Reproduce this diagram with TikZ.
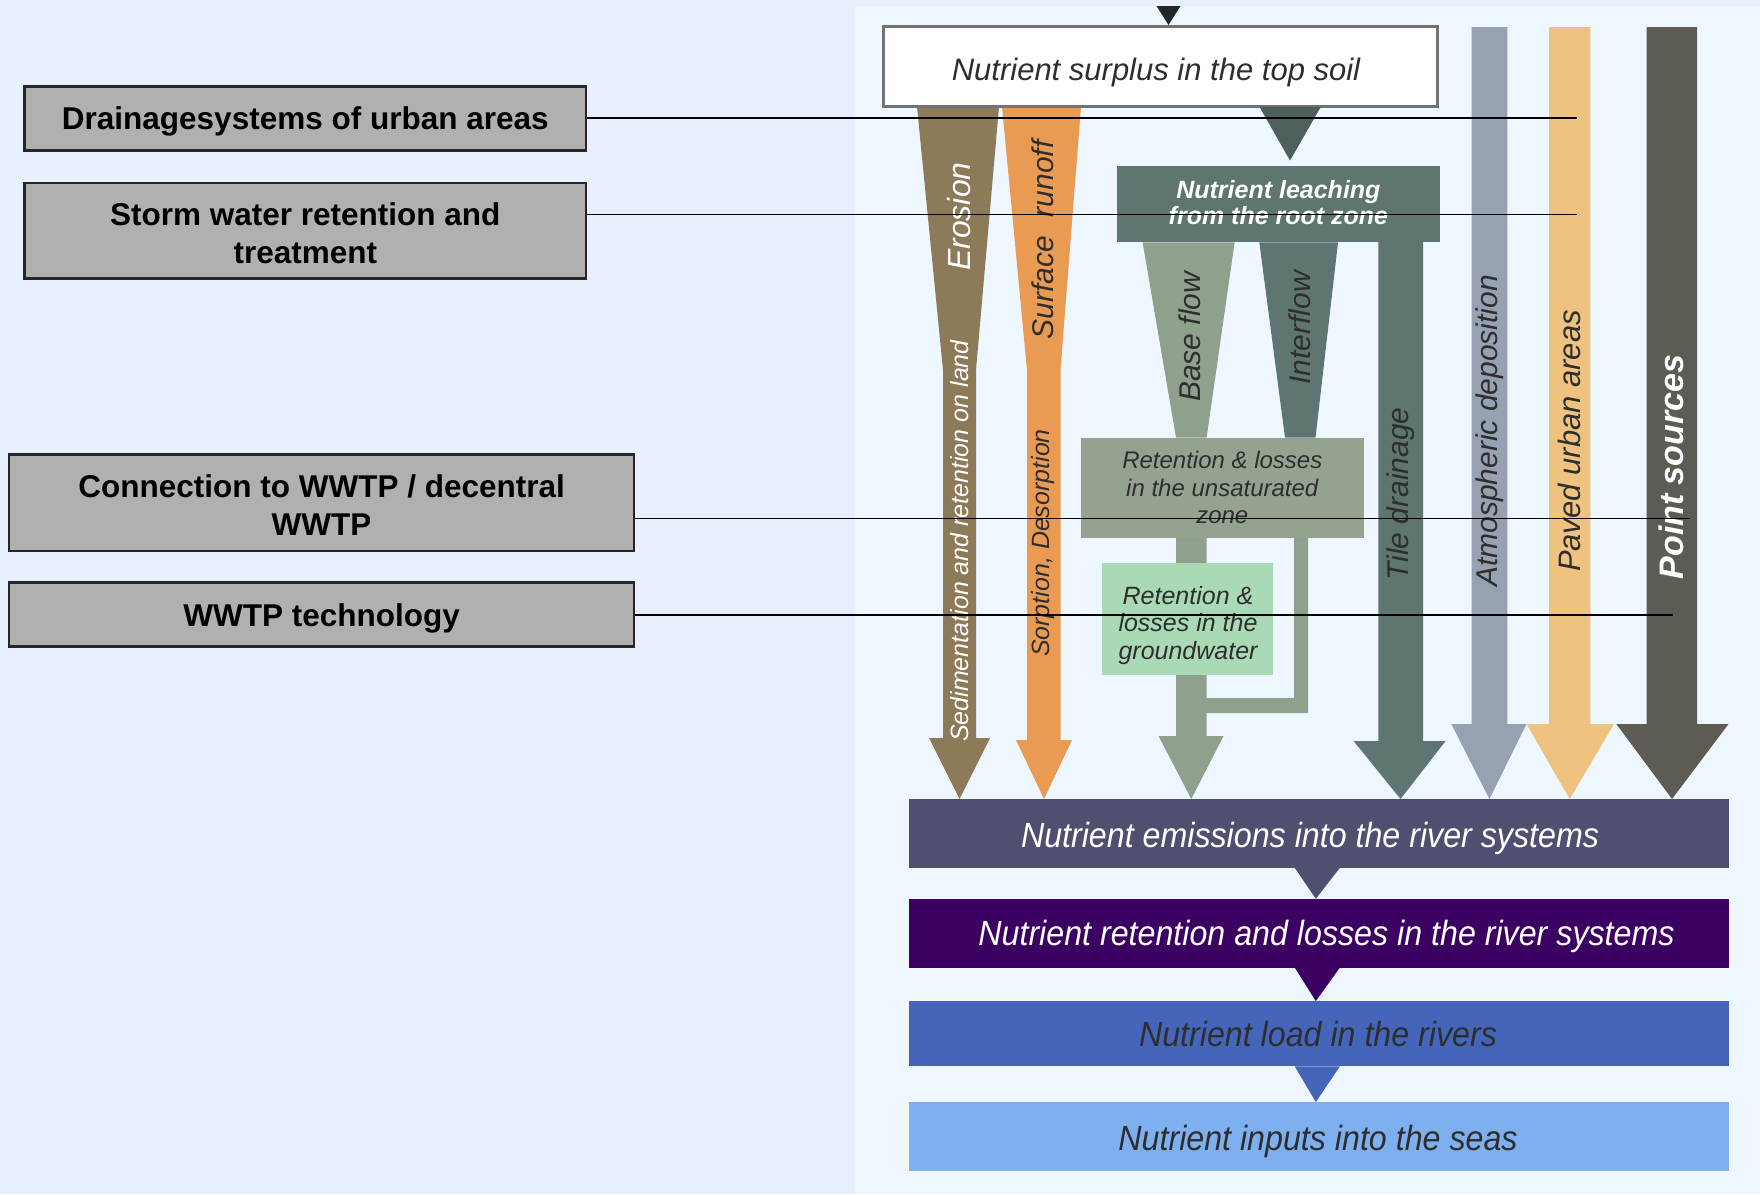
\documentclass[tikz,border=0pt]{standalone}
\usepackage{fontspec}
\setmainfont{Liberation Sans}
\definecolor{leftbg}{HTML}{E8F0FD}
\definecolor{panelbg}{HTML}{EEF6FF}
\definecolor{boxgray}{HTML}{B0B0B0}
\definecolor{eroc}{HTML}{8C7A58}
\definecolor{runc}{HTML}{E99B53}
\definecolor{leachc}{HTML}{5E7571}
\definecolor{tric}{HTML}{4E605C}
\definecolor{basec}{HTML}{8FA08C}
\definecolor{unsatc}{HTML}{94A38F}
\definecolor{gwc}{HTML}{A9D9B5}
\definecolor{atmc}{HTML}{96A2B2}
\definecolor{pavc}{HTML}{F0C27F}
\definecolor{ptc}{HTML}{5E5A54}
\definecolor{emc}{HTML}{4F4F6F}
\definecolor{retc}{HTML}{3C0062}
\definecolor{loadc}{HTML}{4465B9}
\definecolor{seac}{HTML}{7EB0EF}
\definecolor{darktxt}{HTML}{2E2E2E}
\begin{document}
\begin{tikzpicture}[x=1pt,y=-1pt,
  lbox/.style={draw=black!85, line width=2.5pt, fill=boxgray, inner sep=0pt},
  ltxt/.style={align=center, inner sep=0pt, font=\bfseries\fontsize{31.5}{38}\selectfont},
  link/.style={line width=1.6pt, black},
  bar/.style={rectangle, inner sep=0pt, minimum width=819.5pt},
  bartxt/.style={inner sep=0pt, font=\itshape\fontsize{35}{40}\selectfont},
  inbox/.style={rectangle, inner sep=0pt, align=center},
  vtxt/.style={rotate=90, inner sep=0pt, font=\itshape\fontsize{30}{34}\selectfont, text=darktxt}
]
\useasboundingbox (0,0) rectangle (1760,1194);
\fill[leftbg] (0,0) rectangle (1760,1194);
\fill[panelbg] (855,6) rectangle (1760,1194);

% ---- left boxes ----
\node[lbox, minimum width=561.2pt, minimum height=64pt] (b1) at (305.3,118.4) {};
\node[lbox, minimum width=561.2pt, minimum height=95.4pt] (b2) at (305.3,230.7) {};
\node[lbox, minimum width=625.2pt, minimum height=96.5pt] (b3) at (321.6,502.9) {};
\node[lbox, minimum width=625.2pt, minimum height=64pt] (b4) at (321.6,614.5) {};
\node[ltxt] (b1t) at (305.3,121.6) {Drainagesystems of urban areas};
\node[ltxt] (b2t) at (305.3,233) {Storm water retention and\\treatment};
\node[ltxt] (b3t) at (321.6,505.2) {Connection to WWTP / decentral\\WWTP};
\node[ltxt] (b4t) at (321.6,618.8) {WWTP technology};

% ---- flows from top soil ----
\fill[eroc] (917,106.6) -- (999,106.6) -- (976,370) -- (976,738) -- (990,738) -- (959.5,799) -- (929,738) -- (943,738) -- (943,370) -- cycle;
\fill[runc] (1002,106.6) -- (1081,106.6) -- (1060.5,370) -- (1060.5,740) -- (1072,740) -- (1044,799) -- (1016,740) -- (1027,740) -- (1027,370) -- cycle;

% leaching branches
\fill[basec] (1142.6,242.4) -- (1234.6,242.4) -- (1206.6,437.7) -- (1176,437.7) -- cycle;
\fill[leachc] (1259.3,242.4) -- (1338,242.4) -- (1315.5,437.7) -- (1285,437.7) -- cycle;
\fill[basec] (1176,537) -- (1206.6,537) -- (1206.6,736) -- (1223.5,736) -- (1191.3,799) -- (1158.5,736) -- (1176,736) -- cycle;
\fill[basec] (1294,537) -- (1308,537) -- (1308,713) -- (1206,713) -- (1206,698) -- (1294,698) -- cycle;
\fill[leachc] (1378.3,242) -- (1423.2,242) -- (1423.2,741) -- (1445.6,741) -- (1400.5,799) -- (1353.6,741) -- (1378.3,741) -- cycle;

% direct sources
\fill[atmc] (1471.5,27) -- (1507.4,27) -- (1507.4,724) -- (1526.5,724) -- (1489.4,799) -- (1451.3,724) -- (1471.5,724) -- cycle;
\fill[pavc] (1549,27) -- (1590.4,27) -- (1590.4,724) -- (1614,724) -- (1569.7,799) -- (1526.5,724) -- (1549,724) -- cycle;
\fill[ptc] (1646.6,27) -- (1697,27) -- (1697,724) -- (1728.5,724) -- (1672,799) -- (1616.3,724) -- (1646.6,724) -- cycle;

% ---- top soil ----
\fill[black!85] (1156.5,6) -- (1180.5,6) -- (1168.5,25) -- cycle;
\node[inbox, draw=black!55, line width=3pt, fill=white, minimum width=554.5pt, minimum height=79.7pt] (ts) at (1160.5,66.75) {};
\node[inbox, font=\itshape\fontsize{31}{36}\selectfont, text=darktxt] (tstxt) at (1156,72) {Nutrient surplus in the top soil};
\fill[tric] (1259.3,106.6) -- (1321,106.6) -- (1290,160.5) -- cycle;

% ---- intermediate boxes ----
\node[inbox, fill=leachc, minimum width=323.2pt, minimum height=76.3pt] (leach) at (1278.4,204.2) {};
\node[inbox, text=white, font=\bfseries\itshape\fontsize{25}{25.5}\selectfont] (leacht) at (1278.4,202.5) {Nutrient leaching\\from the root zone};
\node[inbox, fill=unsatc, minimum width=282.7pt, minimum height=99.9pt, text=darktxt,
  font=\itshape\fontsize{24}{27.5}\selectfont] (unsat) at (1222.3,487.6) {Retention \& losses\\in the unsaturated\\zone};
\node[inbox, fill=gwc, minimum width=170.6pt, minimum height=111.2pt] (gw) at (1187.5,619) {};
\node[inbox, text=darktxt, font=\itshape\fontsize{25}{27.5}\selectfont] (gwt) at (1188,625.5) {Retention \&\\losses in the\\groundwater};

% ---- flow labels ----
\node[vtxt, text=white, font=\itshape\fontsize{32}{36}\selectfont] (lero) at (959,216.6) {Erosion};
\node[vtxt, text=white, font=\itshape\fontsize{25}{30}\selectfont] (lsed) at (959.5,541) {Sedimentation and retention on land};
\node[vtxt] (lrun) at (1043,240) {Surface\hspace{0.35em} runoff};
\node[vtxt, font=\itshape\fontsize{25}{30}\selectfont] (lsor) at (1043.5,543) {Sorption, Desorption};
\node[vtxt] (lbase) at (1190,336.7) {Base flow};
\node[vtxt] (linter) at (1300,327.7) {Interflow};
\node[vtxt] (ltile) at (1401,494) {Tile drainage};
\node[vtxt] (latm) at (1489.4,431) {Atmospheric deposition};
\node[vtxt, font=\itshape\fontsize{31}{35}\selectfont] (lpav) at (1569.5,441) {Paved urban areas};
\node[vtxt, text=white, font=\bfseries\itshape\fontsize{34}{38}\selectfont] (lpt) at (1671.5,467) {Point sources};

% ---- river bars ----
\node[bar, fill=emc, minimum height=68.6pt] (em) at (1318.8,833.4) {};
\node[bar, fill=retc, minimum height=68.5pt] (ret) at (1318.8,933.25) {};
\node[bar, fill=loadc, minimum height=65pt] (load) at (1318.8,1033.75) {};
\node[bar, fill=seac, minimum height=68.5pt] (sea) at (1318.8,1136.45) {};
\node[bartxt, text=white] (emt) at (1310,838) {\scalebox{0.92}[1]{Nutrient emissions into the river systems}};
\node[bartxt, text=white] (rett) at (1326.5,936.7) {\scalebox{0.92}[1]{Nutrient retention and losses in the river systems}};
\node[bartxt, text=darktxt] (loadt) at (1318,1033.5) {\scalebox{0.92}[1]{Nutrient load in the rivers}};
\node[bartxt, text=darktxt] (seat) at (1318,1141) {\scalebox{0.92}[1]{Nutrient inputs into the seas}};
\fill[emc] ([xshift=-24pt]em.south) -- ([xshift=21pt]em.south) -- ([xshift=-3pt]ret.north) -- cycle;
\fill[retc] ([xshift=-24pt]ret.south) -- ([xshift=21pt]ret.south) -- ([xshift=-3pt]load.north) -- cycle;
\fill[loadc] ([xshift=-24pt]load.south) -- ([xshift=21pt]load.south) -- ([xshift=-3pt]sea.north) -- cycle;

% ---- connector lines ----
\coordinate (e1) at (1577,117.9);
\coordinate (e2) at (1577,214.4);
\coordinate (e3) at (1690,518.6);
\coordinate (e4) at (1673,615);
\draw[link] (b1.east |- e1) -- (e1);
\draw[link] (b2.east |- e2) -- (e2);
\draw[link] (b3.east |- e3) -- (e3);
\draw[link] (b4.east |- e4) -- (e4);
\end{tikzpicture}
\end{document}
